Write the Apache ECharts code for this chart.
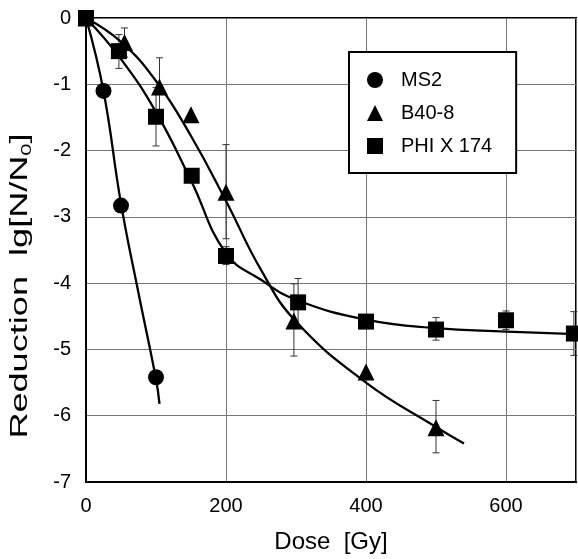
<!DOCTYPE html>
<html>
<head>
<meta charset="utf-8">
<script src="https://cdn.jsdelivr.net/npm/echarts@6/dist/echarts.min.js"></script>
<style>html,body{margin:0;padding:0;background:#fff}#c{width:578px;height:559px}</style>
</head>
<body>
<div id="c"></div>
<script>
// ---- measured points ----
const ms2Dose = [0, 25, 50, 100];
const ms2Red  = [0, -1.1, -2.83, -5.42];
const b40Dose = [0, 55, 105, 150, 200, 297, 400, 500];
const b40Red  = [0, -0.37, -1.04, -1.46, -2.63, -4.57, -5.34, -6.18];
const phiDose = [0, 47, 100, 151, 200, 303, 400, 500, 600, 697];
const phiRed  = [0, -0.5, -1.49, -2.38, -3.59, -4.29, -4.58, -4.70, -4.56, -4.76];

// ---- error bars ----
const b40ErrDose = [55, 105, 200, 297, 500];
const b40ErrHigh = [-0.15, -0.6, -1.91, -4.01, -5.77];
const b40ErrLow  = [-0.59, -1.48, -3.33, -5.10, -6.56];
const phiErrDose = [47, 100, 200, 303, 500, 600, 697];
const phiErrHigh = [-0.25, -1.05, -3.45, -3.93, -4.52, -4.42, -4.43];
const phiErrLow  = [-0.76, -1.93, -3.72, -4.65, -4.86, -4.70, -5.09];

// ---- fitted curves ----
const ms2FitDose = [0, 25, 50, 75, 100, 105];
const ms2FitRed  = [0, -1.1, -2.8, -4.15, -5.45, -5.82];
const b40FitDose = [0, 50, 100, 150, 200, 250, 300, 400, 500, 540];
const b40FitRed  = [0, -0.36, -0.95, -1.78, -2.76, -3.8, -4.58, -5.5, -6.17, -6.42];
const phiFitDose = [0, 50, 100, 150, 200, 250, 300, 400, 500, 600, 700];
const phiFitRed  = [0, -0.62, -1.42, -2.45, -3.55, -3.95, -4.25, -4.55, -4.68, -4.73, -4.77];

const seriesNames = ['MS2', 'B40-8', 'PHI X 174'];
const xTitle = 'Dose  [Gy]';
const yTitle = 'Reduction  lg[N/N{sub|0}]';

const zip = (a, b) => a.map((v, i) => [v, b[i]]);
const FONT = 'Liberation Sans, Arial, sans-serif';

function errSeries(dose, lo, hi) {
  return {
    type: 'custom',
    silent: true,
    clip: false,
    z: 2,
    data: dose.map((d, i) => [d, lo[i], hi[i]]),
    encode: { x: 0, y: [1, 2] },
    renderItem: function (params, api) {
      const x = api.value(0);
      const p1 = api.coord([x, api.value(2)]);
      const p2 = api.coord([x, api.value(1)]);
      const w = 3.5;
      const st = { stroke: '#333', lineWidth: 1 };
      return {
        type: 'group',
        children: [
          { type: 'line', shape: { x1: p1[0], y1: p1[1], x2: p2[0], y2: p2[1] }, style: st },
          { type: 'line', shape: { x1: p1[0] - w, y1: p1[1], x2: p1[0] + w, y2: p1[1] }, style: st },
          { type: 'line', shape: { x1: p2[0] - w, y1: p2[1], x2: p2[0] + w, y2: p2[1] }, style: st }
        ]
      };
    }
  };
}

function fitSeries(dose, red) {
  return {
    type: 'line', data: zip(dose, red), showSymbol: false, symbol: 'none',
    smooth: 0.45, silent: true, z: 3,
    lineStyle: { color: '#000', width: 2.3 }
  };
}

function ptSeries(name, sym, size, dose, red, z) {
  return {
    name: name, type: 'scatter', symbol: sym, symbolSize: size, clip: false, z: z,
    itemStyle: { color: '#000', opacity: 1 },
    data: zip(dose, red)
  };
}

const chart = echarts.init(document.getElementById('c'), null, { renderer: 'canvas' });
chart.setOption({
  animation: false,
  backgroundColor: '#fff',
  textStyle: { fontFamily: FONT },
  grid: { left: 86, right: 2, top: 18, bottom: 70, show: true, borderColor: '#000', borderWidth: 2, backgroundColor: 'transparent' },
  legend: {
    orient: 'vertical',
    left: 349, top: 52,
    data: seriesNames,
    backgroundColor: '#fff',
    borderColor: '#000', borderWidth: 2, borderRadius: 0,
    padding: [18, 24, 17, 18],
    itemWidth: 16, itemHeight: 16, itemGap: 13,
    textStyle: { fontFamily: FONT, fontSize: 20, color: '#000', lineHeight: 20, padding: [0, 0, 0, 13] },
    z: 10
  },
  graphic: [{
    type: 'text',
    x: 21, y: 286,
    rotation: Math.PI / 2,
    scaleX: 1.57,
    silent: true,
    style: {
      text: yTitle,
      fontFamily: FONT, fontSize: 23, fill: '#000',
      align: 'center', verticalAlign: 'middle',
      rich: { sub: { fontFamily: FONT, fontSize: 14, fill: '#000', padding: [12, 0, 0, 0] } }
    }
  }],
  xAxis: {
    type: 'value', min: 0, max: 700, interval: 200,
    name: xTitle, nameLocation: 'middle', nameGap: 48,
    nameTextStyle: { fontFamily: FONT, fontSize: 24, color: '#000' },
    axisLine: { show: true, onZero: false, lineStyle: { color: '#000', width: 2 } },
    axisTick: { show: false },
    axisLabel: { fontFamily: FONT, fontSize: 20, color: '#000', margin: 14, showMaxLabel: false },
    splitLine: { show: true, lineStyle: { color: '#777', width: 1 } }
  },
  yAxis: {
    type: 'value', min: -7, max: 0, interval: 1,
    axisLine: { show: true, onZero: false, lineStyle: { color: '#000', width: 2 } },
    axisTick: { show: false },
    axisLabel: { fontFamily: FONT, fontSize: 20, color: '#000', margin: 15 },
    splitLine: { show: true, lineStyle: { color: '#777', width: 1 } }
  },
  series: [
    errSeries(b40ErrDose, b40ErrLow, b40ErrHigh),
    errSeries(phiErrDose, phiErrLow, phiErrHigh),
    fitSeries(ms2FitDose, ms2FitRed),
    fitSeries(b40FitDose, b40FitRed),
    fitSeries(phiFitDose, phiFitRed),
    ptSeries('MS2', 'circle', 16, ms2Dose, ms2Red, 4),
    ptSeries('B40-8', 'triangle', 17, b40Dose, b40Red, 5),
    ptSeries('PHI X 174', 'rect', 16, phiDose, phiRed, 6)
  ]
});
</script>
</body>
</html>
